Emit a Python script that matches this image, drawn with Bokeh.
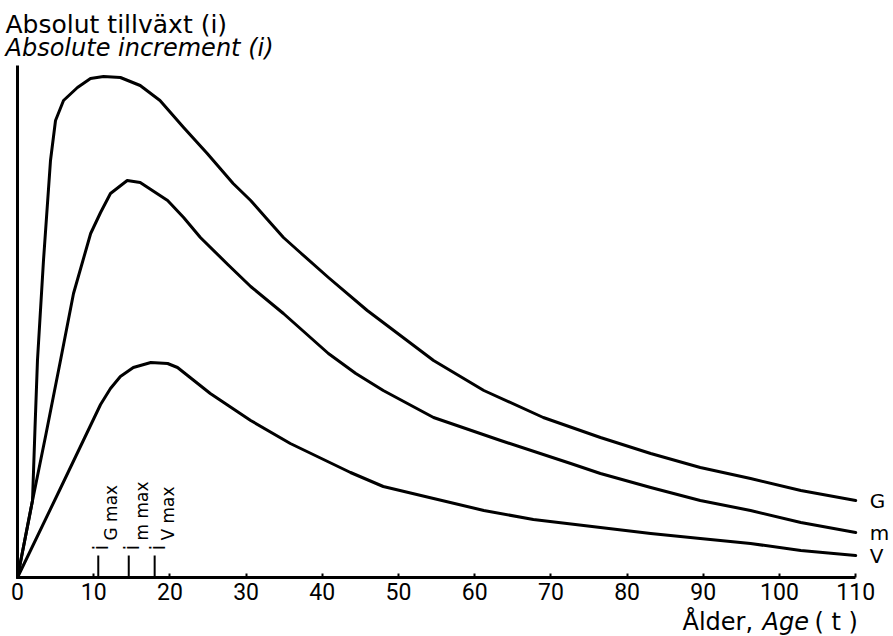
from math import pi
from bokeh.plotting import figure
from bokeh.models import Label, Range1d
from bokeh.embed import file_html
from bokeh.resources import INLINE

# Ages (t) and absolute increment (i) (arbitrary units)
age_G = [0, 1.97, 2.3, 2.62, 3.41, 4.33, 4.99, 6.04, 7.87, 9.58, 11.29, 13.5, 16.1,
         18.7, 21.8, 24.9, 28.3, 30.6, 32.8, 34.9, 37.1, 40.8, 45.9, 54.6, 61.2,
         69.0, 76.5, 83.1, 89.6, 96.2, 102.8, 110]
inc_G = [0, 15.4, 30, 43.4, 63.4, 83.4, 91.4, 95.4, 98, 99.8, 100.2, 100, 98.4,
         95.4, 90, 84.8, 78.8, 75.4, 71.6, 68, 65, 60, 53.4, 43.4, 37.4,
         32, 28, 24.8, 22, 19.8, 17.4, 15.4]

age_m = [0, 1.97, 3.7, 5.64, 7.35, 9.6, 10.9, 12.2, 14.4, 16.1, 19.7, 21.8, 24.0,
         27.6, 30.6, 34.9, 40.8, 44.4, 48.0, 54.6, 63.4, 72.6, 76.5, 83.1, 89.6, 96.2,
         102.8, 110]
inc_m = [0, 15.4, 28.4, 43.4, 56.8, 68.8, 73, 76.8, 79.4, 79, 75.4, 72, 68,
         62.6, 58.2, 52.8, 44.8, 40.8, 37.4, 32, 27.4, 22.8, 20.8, 18, 15.4, 13.4,
         11, 9]

age_V = [0, 5.5, 10.9, 12.2, 13.5, 15.2, 17.5, 19.7, 21.0, 25.3, 30.6, 35.8, 43.7,
         48.0, 54.6, 61.2, 67.7, 76.5, 83.1, 89.6, 96.2, 102.8, 110]
inc_V = [0, 17.4, 34.6, 37.8, 40.2, 42, 43, 42.8, 42, 36.8, 31.4, 26.8, 21,
         18.2, 15.8, 13.4, 11.6, 10, 8.8, 7.8, 6.8, 5.4, 4.4]

max_names = ["G max", "m max", "V max"]
max_ages = [10.6, 14.6, 18.0]
max_mark_height = [4.4, 4.4, 4.4]
x_ticks = [0, 10, 20, 30, 40, 50, 60, 70, 80, 90, 100, 110]
y_axis_top = 102.4

FONT = "DejaVu Sans"
W, H = 893, 636
X0_PX, X_SCALE = 17, 7.62      # pixel of age 0, pixels per year
Y0_PX, Y_SCALE = 577, 5.0      # pixel row of i = 0, pixels per unit

p = figure(width=W, height=H, output_backend="svg", toolbar_location=None,
           x_range=Range1d(-X0_PX / X_SCALE, (W - X0_PX) / X_SCALE),
           y_range=Range1d(-(H - Y0_PX) / Y_SCALE, Y0_PX / Y_SCALE),
           min_border=0, min_border_left=0, min_border_right=0,
           min_border_top=0, min_border_bottom=0)
p.outline_line_color = None
p.grid.visible = False
p.background_fill_color = "white"
p.border_fill_color = "white"

# x axis
xa = p.xaxis[0]
xa.fixed_location = 0
xa.bounds = (0, 110)
xa.ticker = x_ticks
xa.axis_line_width = 3
xa.axis_line_color = "black"
xa.major_tick_in = 4
xa.major_tick_out = 0
xa.major_tick_line_width = 2
xa.minor_tick_line_color = None
xa.major_label_standoff = 5
xa.major_label_text_font = "Roboto"
xa.major_label_text_font_size = "23px"
xa.major_label_text_color = "black"

# y axis: line only
ya = p.yaxis[0]
ya.fixed_location = 0
ya.bounds = (0, y_axis_top)
ya.axis_line_width = 3
ya.axis_line_color = "black"
ya.major_tick_line_color = None
ya.minor_tick_line_color = None
ya.major_label_text_color = None
ya.major_label_text_font_size = "1px"
ya.major_tick_out = 0
ya.major_tick_in = 0

for a, v in [(age_G, inc_G), (age_m, inc_m), (age_V, inc_V)]:
    p.line(a, v, line_width=3, line_color="black", line_join="round", line_cap="round")

p.segment(x0=max_ages, y0=[0, 0, 0], x1=max_ages, y1=max_mark_height,
          line_width=2, line_color="black")

for name, a in zip(max_names, max_ages):
    p.add_layout(Label(x=a, y=0, x_offset=3, y_offset=27, text="i", angle=pi / 2,
                       text_font=FONT, text_font_size="21px", text_color="black",
                       text_baseline="alphabetic", text_align="left"))
    p.add_layout(Label(x=a, y=0, x_offset=13, y_offset=37, text=name, angle=pi / 2,
                       text_font=FONT, text_font_size="17px", text_color="black",
                       text_baseline="alphabetic", text_align="left"))

for name, v in [("G", inc_G[-1]), ("m", inc_m[-1]), ("V", inc_V[-1])]:
    p.add_layout(Label(x=110, y=v, x_offset=14, text=name, text_font=FONT,
                       text_font_size="20px", text_color="black",
                       text_baseline="middle", text_align="left"))

# titles (screen units: x from left edge, y up from bottom edge)
p.add_layout(Label(x=5, y=H - 24, x_units="screen", y_units="screen",
                   text="Absolut tillväxt (i)", text_font=FONT, text_font_size="25px",
                   text_color="black", text_baseline="alphabetic"))
p.add_layout(Label(x=5, y=H - 47, x_units="screen", y_units="screen",
                   text="Absolute increment (i)", text_font=FONT, text_font_size="24px",
                   text_font_style="italic", text_color="black",
                   text_baseline="alphabetic"))

# x axis title with mixed styles
for txt, xpos, style in [("Ålder,", 682, "normal"), ("Age", 762, "italic"),
                         ("( t )", 814, "normal")]:
    p.add_layout(Label(x=xpos, y=H - 621, x_units="screen", y_units="screen",
                       text=txt, text_font=FONT, text_font_size="24px",
                       text_font_style=style, text_color="black",
                       text_baseline="alphabetic"))

open("out.html", "w").write(file_html(p, INLINE))
